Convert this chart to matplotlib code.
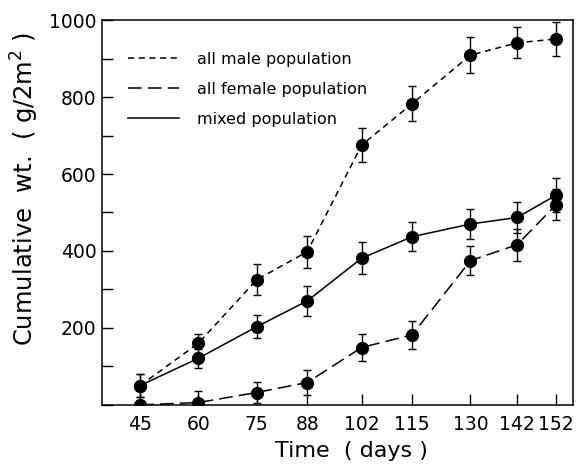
import matplotlib
matplotlib.use("Agg")
import matplotlib.pyplot as plt
from matplotlib.lines import Line2D

days = [45, 60, 75, 88, 102, 115, 130, 142, 152]
male = [50, 160, 325, 398, 675, 783, 909, 941, 951]
male_err = [30, 25, 40, 42, 45, 45, 47, 40, 43]
female = [0, 6, 32, 58, 149, 182, 375, 416, 520]
female_err = [5, 30, 28, 32, 35, 37, 38, 42, 40]
mixed = [50, 121, 203, 270, 381, 437, 470, 487, 545]
mixed_err = [30, 25, 30, 40, 42, 38, 38, 41, 45]
labels = ["all male population", "all female population", "mixed population"]

fig = plt.figure(figsize=(5.76, 4.68), dpi=100)
ax = fig.add_axes([0.177, 0.135, 0.818, 0.822])

styles = [(0, (4, 3)), (0, (9, 4)), "-"]
for y, e, ls in zip([male, female, mixed], [male_err, female_err, mixed_err], styles):
    ax.errorbar(days, y, yerr=e, color="black", linestyle=ls, linewidth=1.1,
                marker="o", markersize=8.5, capsize=3, elinewidth=1.0, capthick=1.0)

ax.set_xlim(35.2, 156.4)
ax.set_ylim(0, 1000)
ax.set_xticks(days)
ax.set_xticklabels([str(d) for d in days])
ax.set_yticks([0, 200, 400, 600, 800, 1000])
ax.set_yticklabels(["", "200", "400", "600", "800", "1000"])
ax.set_yticks([100, 300, 500, 700, 900], minor=True)
ax.tick_params(axis="both", which="both", direction="in", labelsize=13.5, width=1.0)
ax.tick_params(axis="both", which="major", length=8)
ax.tick_params(axis="y", which="minor", length=8)
ax.tick_params(axis="y", pad=4)
ax.tick_params(axis="x", pad=7)
for s in ax.spines.values():
    s.set_linewidth(1.1)

ax.set_xlabel("Time  ( days )", fontsize=16)
ax.xaxis.set_label_coords(0.529, -0.095)
ax.set_ylabel("Cumulative  wt.  ( g/2m$^2$ )", fontsize=17.5)
ax.yaxis.set_label_coords(-0.13, 0.56)

handles = [Line2D([0], [0], color="black", linestyle=ls, linewidth=1.1) for ls in styles]
ax.legend(handles, labels, loc="upper left", bbox_to_anchor=(0.055, 0.918), frameon=False,
          borderaxespad=0, borderpad=0,
          fontsize=11.5, handlelength=3.2, handletextpad=1.1, labelspacing=0.95)

fig.savefig("out.png", dpi=100)
